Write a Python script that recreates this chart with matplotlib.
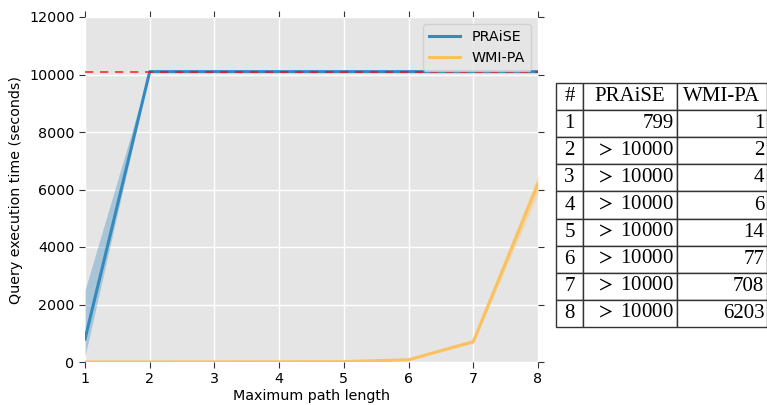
import matplotlib
matplotlib.use("Agg")
import matplotlib.pyplot as plt
import numpy as np

plt.rcParams["mathtext.fontset"] = "stix"

path_len = [1, 2, 3, 4, 5, 6, 7, 8]
praise_mean = [799, 10100, 10100, 10100, 10100, 10100, 10100, 10100]
praise_lo = [200, 10100, 10100, 10100, 10100, 10100, 10100, 10100]
praise_hi = [2500, 10100, 10100, 10100, 10100, 10100, 10100, 10100]
wmipa_mean = [1, 2, 4, 6, 14, 77, 708, 6203]
wmipa_lo = [1, 2, 4, 6, 12, 70, 650, 5850]
wmipa_hi = [1, 2, 4, 6, 16, 85, 760, 6500]
timeout = 10100

table_header = ["#", "PRAiSE", "WMI-PA"]
table_praise = ["799"] + [r"$>$ 10000"] * 7
table_wmipa = ["1", "2", "4", "6", "14", "77", "708", "6203"]

W, H = 767, 405
fig = plt.figure(figsize=(W / 100, H / 100), dpi=100)
ax = fig.add_axes([85 / W, 1 - 362 / H, (538 - 85) / W, (362 - 17) / H])
ax.set_facecolor("#E5E5E5")
for s in ax.spines.values():
    s.set_visible(False)
ax.grid(True, color="white", linewidth=1)
ax.set_axisbelow(True)

blue = "#348ABD"
orange = "#FBC15E"
ax.fill_between(path_len, praise_lo, praise_hi, color=blue, alpha=0.35, linewidth=0)
ax.fill_between(path_len, wmipa_lo, wmipa_hi, color=orange, alpha=0.35, linewidth=0)
ax.plot(path_len, praise_mean, color=blue, linewidth=2.2, label="PRAiSE")
ax.plot(path_len, wmipa_mean, color=orange, linewidth=2.2, label="WMI-PA")
ax.axhline(timeout, color="red", linestyle=(0, (5, 4)), linewidth=1.2, alpha=0.8)

ax.set_xlim(1, 8)
ax.set_ylim(0, 12000)
ax.set_xticks(path_len)
ax.set_yticks(range(0, 12001, 2000))
fs = 10.3
ax.tick_params(direction="out", top=True, right=True, labelsize=fs, length=4, color="#333333")
ax.set_xlabel("Maximum path length", fontsize=fs, labelpad=2)
ax.set_ylabel("Query execution time (seconds)", fontsize=fs)
leg = ax.legend(loc="upper right", fontsize=fs, frameon=True, handlelength=2.2)
leg.get_frame().set_facecolor("#E5E5E5")
leg.get_frame().set_edgecolor("#CCCCCC")

# table
tx0, tx1, ty0, ty1 = 556, 767, 83, 327
tax = fig.add_axes([tx0 / W, 1 - ty1 / H, (tx1 - tx0) / W, (ty1 - ty0) / H])
tax.set_axis_off()
colw = [27, 94, 90]
tot = sum(colw)
colw_frac = [c / tot for c in colw]
rows = [table_header] + [[str(i + 1), p, w] for i, (p, w) in enumerate(zip(table_praise, table_wmipa))]
tbl = tax.table(cellText=rows, colWidths=colw_frac, bbox=[0, 0, 1, 1], cellLoc="right")
tbl.auto_set_font_size(False)
for (r, c), cell in tbl.get_celld().items():
    cell.set_linewidth(1.0)
    cell.set_edgecolor("#333333")
    t = cell.get_text()
    t.set_fontfamily("Liberation Serif")
    t.set_fontsize(15)
    if c == 0 or r == 0:
        t.set_horizontalalignment("center")
        cell._loc = "center"
    if r > 0 and c > 0:
        cell._loc = "right"
        cell.PAD = 0.03

fig.savefig("out.png", dpi=100)
